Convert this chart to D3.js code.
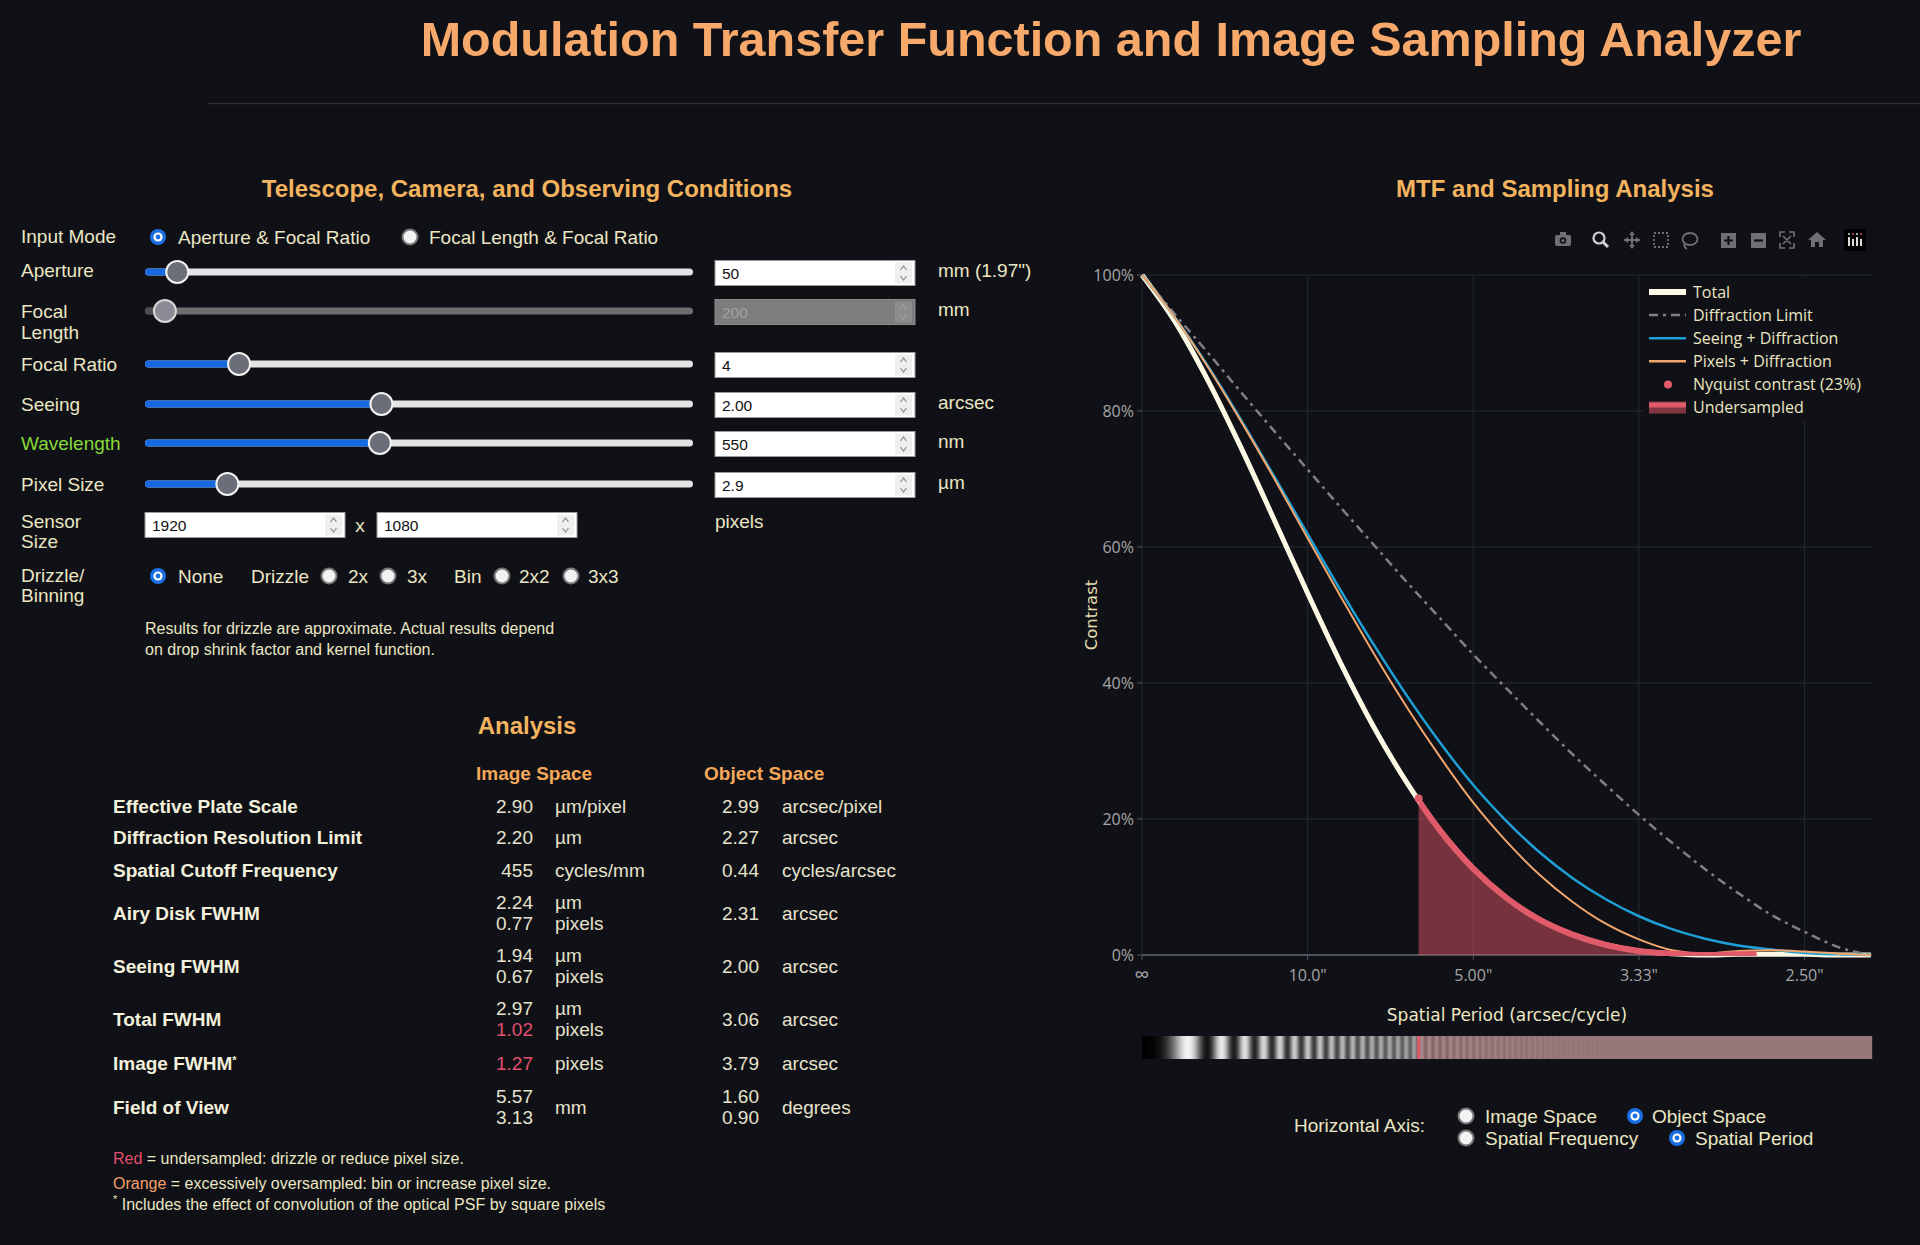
<!DOCTYPE html>
<html>
<head>
<meta charset="utf-8">
<script src="https://cdn.jsdelivr.net/npm/d3@7"></script>
<style>
  body { margin: 0; background: #0f1117; }
  svg { display: block; }
</style>
</head>
<body>
<svg id="page" width="1920" height="1245"></svg>
<script>
// MTF curves, spatial frequency in cycles/arcsec
const freq = [0, 0.02, 0.04, 0.06, 0.08, 0.10, 0.12, 0.14, 0.16, 0.18, 0.20, 0.22, 0.24, 0.26, 0.28, 0.30, 0.32, 0.34, 0.36, 0.38, 0.40, 0.42, 0.44]
const diffraction = [1, 0.942, 0.885, 0.827, 0.770, 0.714, 0.658, 0.603, 0.548, 0.495, 0.442, 0.392, 0.343, 0.295, 0.250, 0.206, 0.165, 0.126, 0.091, 0.059, 0.034, 0.012, 0]
const seeingDiffraction = [1, 0.937, 0.865, 0.786, 0.703, 0.619, 0.536, 0.456, 0.381, 0.312, 0.250, 0.197, 0.151, 0.113, 0.082, 0.057, 0.038, 0.024, 0.014, 0.008, 0.003, 0.001, 0]
const pixelsDiffraction = [1, 0.937, 0.864, 0.784, 0.700, 0.613, 0.527, 0.443, 0.364, 0.291, 0.224, 0.167, 0.118, 0.078, 0.046, 0.023, 0.007, 0.002, 0.006, 0.007, 0.005, 0.002, 0]
const total = [1, 0.931, 0.844, 0.745, 0.639, 0.532, 0.429, 0.335, 0.253, 0.183, 0.127, 0.084, 0.052, 0.030, 0.015, 0.006, 0.002, 0.000, 0.001, 0.001, 0.001, 0.000, 0]
const nyquistFreq = 0.167
const nyquistContrast = 0.23
const undersampledEnd = 0.371
const cutoffFreq = 0.4407

const xTickValues = [0, 0.1, 0.2, 0.3, 0.4]
const xTickLabels = ['∞', '10.0"', '5.00"', '3.33"', '2.50"']
const yTickValues = [0, 0.2, 0.4, 0.6, 0.8, 1]
const yTickLabels = ['0%', '20%', '40%', '60%', '80%', '100%']
const legendLabels = ['Total', 'Diffraction Limit', 'Seeing + Diffraction', 'Pixels + Diffraction', 'Nyquist contrast (23%)', 'Undersampled']

// input panel
const sliderLabels = [['Aperture'], ['Focal', 'Length'], ['Focal Ratio'], ['Seeing'], ['Wavelength'], ['Pixel Size']]
const sliderValues = [50, 200, 4, 2.0, 550, 2.9]
const sliderMin = [10, 100, 1, 0.5, 350, 1]
const sliderMax = [1000, 6000, 20, 4, 820, 15]
const sliderText = ['50', '200', '4', '2.00', '550', '2.9']
const sliderUnits = ['mm (1.97")', 'mm', '', 'arcsec', 'nm', 'µm']
const sliderDisabled = [false, true, false, false, false, false]
const sensorSize = ['1920', '1080']

// analysis table
const analysisLabels = ['Effective Plate Scale', 'Diffraction Resolution Limit', 'Spatial Cutoff Frequency', 'Airy Disk FWHM', 'Seeing FWHM', 'Total FWHM', 'Image FWHM', 'Field of View']
const imageValues = [['2.90'], ['2.20'], ['455'], ['2.24', '0.77'], ['1.94', '0.67'], ['2.97', '1.02'], ['1.27'], ['5.57', '3.13']]
const imageUnits = [['µm/pixel'], ['µm'], ['cycles/mm'], ['µm', 'pixels'], ['µm', 'pixels'], ['µm', 'pixels'], ['pixels'], ['mm']]
const imageFlags = [[0], [0], [0], [0, 0], [0, 0], [0, 1], [1], [0, 0]]
const objectValues = [['2.99'], ['2.27'], ['0.44'], ['2.31'], ['2.00'], ['3.06'], ['3.79'], ['1.60', '0.90']]
const objectUnits = [['arcsec/pixel'], ['arcsec'], ['cycles/arcsec'], ['arcsec'], ['arcsec'], ['arcsec'], ['arcsec'], ['degrees']]

const sans = '"Liberation Sans", Arial, sans-serif'
const plotFont = '"Open Sans", Verdana, sans-serif'
const cream = '#ebe6c3'
const bg = '#0f1117'
const red = '#e05a6a'

const svg = d3.select('#page')
svg.append('rect').attr('width', 1920).attr('height', 1245).attr('fill', bg)

function label (g, x, y, s, size, color, weight, anchor) {
  return g.append('text')
    .attr('x', x).attr('y', y).attr('dy', '0.35em')
    .attr('text-anchor', anchor || 'start')
    .style('font-family', sans)
    .style('font-size', size + 'px')
    .style('font-weight', weight || 400)
    .attr('fill', color)
    .text(s)
}

function radio (g, cx, cy, on) {
  if (on) {
    g.append('circle').attr('cx', cx).attr('cy', cy).attr('r', 8).attr('fill', '#1a6fe4')
    g.append('circle').attr('cx', cx).attr('cy', cy).attr('r', 4.6).attr('fill', '#fff')
    g.append('circle').attr('cx', cx).attr('cy', cy).attr('r', 2.4).attr('fill', '#1a6fe4')
  } else {
    g.append('circle').attr('cx', cx).attr('cy', cy).attr('r', 7.5)
      .attr('fill', '#f2f2f2').attr('stroke', '#767676').attr('stroke-width', 2)
  }
}

function numberBox (g, x, y, w, s, disabled) {
  g.append('rect').attr('x', x).attr('y', y - 12.5).attr('width', w).attr('height', 25)
    .attr('fill', disabled ? '#7d7d7d' : '#fff').attr('stroke', disabled ? '#8a8a8a' : '#9a9a9a')
  g.append('rect').attr('x', x + w - 20).attr('y', y - 10.5).attr('width', 17).attr('height', 21)
    .attr('fill', disabled ? '#8c8c8c' : '#efefef')
  const cx = x + w - 11.5
  g.append('path').attr('d', `M${cx - 3},${y - 3} L${cx},${y - 7} L${cx + 3},${y - 3} M${cx - 3},${y + 3} L${cx},${y + 7} L${cx + 3},${y + 3}`)
    .attr('fill', 'none').attr('stroke', disabled ? '#a0a0a0' : '#8a8a8a').attr('stroke-width', 1.2)
  label(g, x + 7, y + 1, s, 15.5, disabled ? '#a3a3a3' : '#111')
}

// ---------- header ----------
label(svg, 1111, 39, 'Modulation Transfer Function and Image Sampling Analyzer', 48.5, '#f7a96b', 700, 'middle')
svg.append('line').attr('x1', 208).attr('x2', 1920).attr('y1', 103.5).attr('y2', 103.5)
  .attr('stroke', '#2c2f36').attr('stroke-width', 1.5)

label(svg, 527, 189, 'Telescope, Camera, and Observing Conditions', 24, '#f4b35e', 700, 'middle')
label(svg, 1555, 189, 'MTF and Sampling Analysis', 24, '#f4b35e', 700, 'middle')

// ---------- input form ----------
const form = svg.append('g')
label(form, 21, 236, 'Input Mode', 19, cream)
radio(form, 158, 237, true)
label(form, 178, 237, 'Aperture & Focal Ratio', 19, cream)
radio(form, 410, 237, false)
label(form, 429, 237, 'Focal Length & Focal Ratio', 19, cream)

const sliderRows = [272, 311, 364, 404, 443, 484]
sliderLabels.forEach((lines, i) => {
  const cy = sliderRows[i]
  const color = lines[0] === 'Wavelength' ? '#86d93a' : cream
  lines.forEach((t, j) => label(form, 21, cy + j * 21 - (i === 0 ? 2 : 0), t, 19, color))
  const pos = d3.scaleLinear().domain([sliderMin[i], sliderMax[i]]).range([156, 682])
  const tx = pos(sliderValues[i])
  const off = sliderDisabled[i]
  form.append('rect').attr('x', 145).attr('y', cy - 3.5).attr('width', 548).attr('height', 7).attr('rx', 3.5)
    .attr('fill', off ? '#6e6e6e' : '#e4e4e4')
  form.append('rect').attr('x', 145).attr('y', cy - 3.5).attr('width', tx - 145).attr('height', 7).attr('rx', 3.5)
    .attr('fill', off ? '#4d4d4d' : '#1769e0')
  form.append('circle').attr('cx', tx).attr('cy', cy).attr('r', 11)
    .attr('fill', off ? '#8a8b94' : '#6b6d78').attr('stroke', off ? '#d8d8d8' : '#f2f2f2').attr('stroke-width', 2)
  numberBox(form, 715, cy + 1, 200, sliderText[i], off)
  if (sliderUnits[i]) label(form, 938, cy - 2, sliderUnits[i], 19, cream)
})

label(form, 21, 521, 'Sensor', 19, cream)
label(form, 21, 541, 'Size', 19, cream)
numberBox(form, 145, 525, 200, sensorSize[0], false)
label(form, 360, 525, 'x', 19, cream, 400, 'middle')
numberBox(form, 377, 525, 200, sensorSize[1], false)
label(form, 715, 521, 'pixels', 19, cream)

label(form, 21, 575, 'Drizzle/', 19, cream)
label(form, 21, 595, 'Binning', 19, cream)
radio(form, 158, 576, true)
label(form, 178, 576, 'None', 19, cream)
label(form, 251, 576, 'Drizzle', 19, cream)
radio(form, 329, 576, false)
label(form, 348, 576, '2x', 19, cream)
radio(form, 388, 576, false)
label(form, 407, 576, '3x', 19, cream)
label(form, 454, 576, 'Bin', 19, cream)
radio(form, 502, 576, false)
label(form, 519, 576, '2x2', 19, cream)
radio(form, 571, 576, false)
label(form, 588, 576, '3x3', 19, cream)

label(form, 145, 628, 'Results for drizzle are approximate. Actual results depend', 16, cream)
label(form, 145, 649, 'on drop shrink factor and kernel function.', 16, cream)

// ---------- analysis table ----------
const tab = svg.append('g')
label(tab, 527, 726, 'Analysis', 24, '#f4b35e', 700, 'middle')
label(tab, 476, 773, 'Image Space', 19, '#f5a85a', 700)
label(tab, 704, 773, 'Object Space', 19, '#f5a85a', 700)

const rowCenters = [806, 837, 870, 913, 966, 1019, 1063, 1107]
const lineGap = 21
function column (vals, units, flags, valueX, unitX, cy) {
  const n = vals.length
  vals.forEach((v, j) => {
    const y = cy + (j - (n - 1) / 2) * lineGap
    label(tab, valueX, y, v, 19, flags && flags[j] ? '#e2506c' : '#e6e2cc', 400, 'end')
  })
  units.forEach((u, j) => {
    const m = units.length
    const y = cy + (j - (m - 1) / 2) * lineGap
    label(tab, unitX, y, u, 19, '#e6e2cc')
  })
}
analysisLabels.forEach((t, i) => {
  const cy = rowCenters[i]
  const lt = label(tab, 113, cy, t, 19, '#f3f0dc', 700)
  if (t === 'Image FWHM') {
    lt.append('tspan').attr('dy', '-0.5em').style('font-size', '11px').text('*')
  }
  column(imageValues[i], imageUnits[i], imageFlags[i], 533, 555, cy)
  column(objectValues[i], objectUnits[i], null, 759, 782, cy)
})

const n1 = label(tab, 113, 1158, '', 16, cream)
n1.append('tspan').attr('fill', '#e2506c').text('Red')
n1.append('tspan').text(' = undersampled: drizzle or reduce pixel size.')
const n2 = label(tab, 113, 1183, '', 16, cream)
n2.append('tspan').attr('fill', '#f5a06a').text('Orange')
n2.append('tspan').text(' = excessively oversampled: bin or increase pixel size.')
const n3 = label(tab, 113, 1208, '', 16, cream)
n3.append('tspan').attr('dy', '-0.45em').style('font-size', '11px').text('*')
n3.append('tspan').attr('dy', '0.45em').text(' Includes the effect of convolution of the optical PSF by square pixels')

// ---------- MTF chart ----------
const x = d3.scaleLinear().domain([0, cutoffFreq]).range([1142, 1872])
const y = d3.scaleLinear().domain([0, 1]).range([955, 275])
const chart = svg.append('g')

chart.selectAll('.vgrid').data(xTickValues).join('line')
  .attr('x1', d => x(d)).attr('x2', d => x(d)).attr('y1', y(1)).attr('y2', y(0))
  .attr('stroke', '#272a31').attr('stroke-width', 1)
chart.selectAll('.hgrid').data(yTickValues.slice(1)).join('line')
  .attr('x1', x(0)).attr('x2', x(cutoffFreq)).attr('y1', d => y(d)).attr('y2', d => y(d))
  .attr('stroke', '#272a31').attr('stroke-width', 1)
chart.append('line').attr('x1', x(0)).attr('x2', x(cutoffFreq)).attr('y1', y(0)).attr('y2', y(0))
  .attr('stroke', '#50535b').attr('stroke-width', 2)

// ticks
chart.selectAll('.ytick').data(yTickValues).join('line')
  .attr('x1', x(0) - 5).attr('x2', x(0)).attr('y1', d => y(d)).attr('y2', d => y(d))
  .attr('stroke', '#50535b')
chart.selectAll('.xtick').data(xTickValues).join('line')
  .attr('x1', d => x(d)).attr('x2', d => x(d)).attr('y1', y(0)).attr('y2', y(0) + 5)
  .attr('stroke', '#50535b')
chart.selectAll('.ylab').data(yTickValues).join('text')
  .attr('x', x(0) - 8).attr('y', d => y(d)).attr('dy', '0.35em')
  .attr('text-anchor', 'end').style('font-family', plotFont).style('font-size', '16px')
  .attr('fill', '#a6a6a6').text((d, i) => yTickLabels[i])
chart.selectAll('.xlab').data(xTickValues).join('text')
  .attr('x', d => x(d)).attr('y', y(0) + 20).attr('dy', '0.35em')
  .attr('text-anchor', 'middle').style('font-family', plotFont)
  .style('font-size', d => d === 0 ? '21px' : '16px')
  .attr('fill', '#a6a6a6').text((d, i) => xTickLabels[i])

chart.append('text').attr('transform', `translate(1091,${y(0.5)})rotate(-90)`)
  .attr('dy', '0.35em').attr('text-anchor', 'middle')
  .style('font-family', 'Verdana, "DejaVu Sans", sans-serif').style('font-size', '16.5px')
  .attr('fill', '#e3dcad').text('Contrast')
chart.append('text').attr('x', 1507).attr('y', 1015).attr('dy', '0.35em').attr('text-anchor', 'middle')
  .style('font-family', 'Verdana, "DejaVu Sans", sans-serif').style('font-size', '17px')
  .attr('fill', '#ece6c2').text('Spatial Period (arcsec/cycle)')

const line = series => d3.line().x((d, i) => x(freq[i])).y(d => y(d)).curve(d3.curveMonotoneX)(series)

chart.append('path').attr('d', line(total)).attr('fill', 'none')
  .attr('stroke', '#fbf8e4').attr('stroke-width', 5).attr('stroke-linejoin', 'round')
chart.append('path').attr('d', line(diffraction)).attr('fill', 'none')
  .attr('stroke', '#7f7f84').attr('stroke-width', 2.5).attr('stroke-dasharray', '9,5,3,5')
chart.append('path').attr('d', line(seeingDiffraction)).attr('fill', 'none')
  .attr('stroke', '#1e9fd6').attr('stroke-width', 2.5)
chart.append('path').attr('d', line(pixelsDiffraction)).attr('fill', 'none')
  .attr('stroke', '#f2a66c').attr('stroke-width', 2)

chart.append('circle').attr('cx', x(nyquistFreq)).attr('cy', y(nyquistContrast)).attr('r', 4).attr('fill', red)

svg.append('defs').append('clipPath').attr('id', 'under')
  .append('rect').attr('x', x(nyquistFreq)).attr('y', 0)
  .attr('width', x(undersampledEnd) - x(nyquistFreq)).attr('height', y(0) + 1)
const area = d3.area().x((d, i) => x(freq[i])).y0(y(0)).y1(d => y(d)).curve(d3.curveMonotoneX)
chart.append('path').attr('d', area(total)).attr('clip-path', 'url(#under)')
  .attr('fill', 'rgba(224,85,100,0.5)')
chart.append('path').attr('d', line(total)).attr('clip-path', 'url(#under)').attr('fill', 'none')
  .attr('stroke', red).attr('stroke-width', 6)

// legend
const leg = chart.append('g')
leg.append('rect').attr('x', 1643).attr('y', 277).attr('width', 240).attr('height', 143).attr('fill', bg)
legendLabels.forEach((t, i) => {
  const ly = 292 + i * 23.1
  const gx = 1649
  if (i === 0) leg.append('line').attr('x1', gx).attr('x2', gx + 37).attr('y1', ly).attr('y2', ly).attr('stroke', '#fbf8e4').attr('stroke-width', 6)
  if (i === 1) leg.append('line').attr('x1', gx).attr('x2', gx + 37).attr('y1', ly).attr('y2', ly).attr('stroke', '#7f7f84').attr('stroke-width', 2.5).attr('stroke-dasharray', '9,5,3,5')
  if (i === 2) leg.append('line').attr('x1', gx).attr('x2', gx + 37).attr('y1', ly).attr('y2', ly).attr('stroke', '#1e9fd6').attr('stroke-width', 2.5)
  if (i === 3) leg.append('line').attr('x1', gx).attr('x2', gx + 37).attr('y1', ly).attr('y2', ly).attr('stroke', '#f2a66c').attr('stroke-width', 2.5)
  if (i === 4) leg.append('circle').attr('cx', gx + 19).attr('cy', ly).attr('r', 4).attr('fill', red)
  if (i === 5) {
    leg.append('rect').attr('x', gx).attr('y', ly - 6).attr('width', 37).attr('height', 12).attr('fill', 'rgba(224,85,100,0.55)')
    leg.append('line').attr('x1', gx).attr('x2', gx + 37).attr('y1', ly - 2.5).attr('y2', ly - 2.5).attr('stroke', red).attr('stroke-width', 5)
  }
  leg.append('text').attr('x', 1693).attr('y', ly).attr('dy', '0.35em')
    .style('font-family', plotFont).style('font-size', '16px').attr('fill', '#ece6c2').text(t)
})

// grating bar whose contrast follows the total MTF
const totalAt = d3.scaleLinear().domain(freq).range(total).clamp(true)
const [bx0, bx1] = x.range()
const cols = d3.range(Math.round(bx1 - bx0))
chart.append('g').selectAll('rect').data(cols).join('rect')
  .attr('x', d => bx0 + d).attr('y', 1036).attr('width', 1.2).attr('height', 23)
  .attr('fill', d => {
    const m = totalAt(x.invert(bx0 + d + 0.5))
    const v = 0.5 - 0.5 * m * Math.cos(Math.PI * Math.pow((d + 0.5) / 46, 2))
    return d3.rgb(v * 255, v * 255, v * 255)
  })
chart.append('rect').attr('x', x(nyquistFreq)).attr('y', 1036)
  .attr('width', bx1 - x(nyquistFreq)).attr('height', 23).attr('fill', 'rgba(200,100,110,0.32)')
chart.append('rect').attr('x', x(nyquistFreq) - 1.5).attr('y', 1036).attr('width', 3).attr('height', 23).attr('fill', red)

// modebar
const mb = svg.append('g').attr('fill', '#6e7076').attr('stroke', 'none')
const my = 240
mb.append('rect').attr('x', 1555).attr('y', my - 5).attr('width', 16).attr('height', 11).attr('rx', 2)
mb.append('rect').attr('x', 1560).attr('y', my - 8).attr('width', 6).attr('height', 4)
mb.append('circle').attr('cx', 1563).attr('cy', my + 0.5).attr('r', 3.3).attr('fill', bg)
mb.append('circle').attr('cx', 1563).attr('cy', my + 0.5).attr('r', 1.6)
mb.append('circle').attr('cx', 1599).attr('cy', my - 2).attr('r', 5.5).attr('fill', 'none').attr('stroke', '#d0d0d0').attr('stroke-width', 2.2)
mb.append('line').attr('x1', 1603).attr('y1', my + 2).attr('x2', 1608).attr('y2', my + 7).attr('stroke', '#d0d0d0').attr('stroke-width', 3)
mb.append('path').attr('d', `M1624,${my}H1640M1632,${my - 8}V${my + 8}`).attr('stroke', '#6e7076').attr('stroke-width', 2)
mb.append('path').attr('d', `M1624,${my}l4,-3v6z M1640,${my}l-4,-3v6z M1632,${my - 9}l-3,4h6z M1632,${my + 9}l-3,-4h6z`)
mb.append('rect').attr('x', 1654).attr('y', my - 7).attr('width', 14).attr('height', 14).attr('fill', 'none')
  .attr('stroke', '#6e7076').attr('stroke-width', 1.8).attr('stroke-dasharray', '2,2')
mb.append('ellipse').attr('cx', 1690).attr('cy', my - 1).attr('rx', 7.5).attr('ry', 6).attr('fill', 'none').attr('stroke', '#6e7076').attr('stroke-width', 1.8)
mb.append('path').attr('d', `M1685,${my + 3} q-2,4 2,6`).attr('fill', 'none').attr('stroke', '#6e7076').attr('stroke-width', 1.8)
mb.append('rect').attr('x', 1721).attr('y', my - 7).attr('width', 15).attr('height', 15)
mb.append('path').attr('d', `M1724,${my + 0.5}h9M1728.5,${my - 4}v9`).attr('stroke', bg).attr('stroke-width', 2.2)
mb.append('rect').attr('x', 1751).attr('y', my - 7).attr('width', 15).attr('height', 15)
mb.append('path').attr('d', `M1754,${my + 0.5}h9`).attr('stroke', bg).attr('stroke-width', 2.2)
mb.append('path').attr('d', `M1780,${my - 3}v-5h5M1794,${my - 3}v-5h-5M1780,${my + 3}v5h5M1794,${my + 3}v5h-5M1783,${my - 4}l8,8M1791,${my - 4}l-8,8`)
  .attr('fill', 'none').attr('stroke', '#6e7076').attr('stroke-width', 1.6)
mb.append('path').attr('d', `M1817,${my - 8}l-9,8h3v7h4v-5h4v5h4v-7h3z`)
mb.append('rect').attr('x', 1844).attr('y', my - 11).attr('width', 22).attr('height', 22).attr('fill', '#000')
;[0, 1, 2, 3].forEach(k => {
  mb.append('rect').attr('x', 1848 + k * 4).attr('y', my - 3 + (k % 2) * 2).attr('width', 2).attr('height', 9 - (k % 2) * 2).attr('fill', '#ddd')
  mb.append('circle').attr('cx', 1849 + k * 4).attr('cy', my - 6).attr('r', 1).attr('fill', k % 2 ? '#e84a5f' : '#ddd')
})

// horizontal axis selector
const hs = svg.append('g')
label(hs, 1294, 1125, 'Horizontal Axis:', 19, cream)
radio(hs, 1466, 1116, false)
label(hs, 1485, 1116, 'Image Space', 19, cream)
radio(hs, 1635, 1116, true)
label(hs, 1652, 1116, 'Object Space', 19, cream)
radio(hs, 1466, 1138, false)
label(hs, 1485, 1138, 'Spatial Frequency', 19, cream)
radio(hs, 1677, 1138, true)
label(hs, 1695, 1138, 'Spatial Period', 19, cream)
</script>
</body>
</html>
